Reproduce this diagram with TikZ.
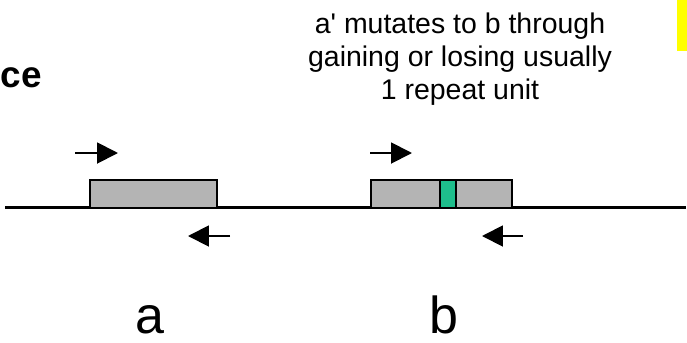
\documentclass[tikz,border=0pt]{standalone}
\usepackage{fontspec}
\setmainfont{Liberation Sans}
\usetikzlibrary{arrows.meta,positioning}
\definecolor{locusgray}{RGB}{180,180,180}
\definecolor{rptgreen}{RGB}{30,190,140}
\definecolor{hilite}{RGB}{255,255,0}
\tikzset{
  locus/.style={draw,line width=0.9pt,fill=locusgray,minimum height=0.56cm,inner sep=0pt},
  unit/.style={draw,line width=0.9pt,fill=rptgreen,minimum width=0.32cm,minimum height=0.56cm,inner sep=0pt},
  primer/.style={-{Triangle[length=0.42cm,width=0.42cm]},line width=1.1pt},
  chrom/.style={line width=1.7pt},
  lbl/.style={font=\fontsize{29.6}{32}\selectfont,inner sep=0pt,anchor=base}
}
\begin{document}
\begin{tikzpicture}[x=0.02cm,y=-0.02cm]
\useasboundingbox (0,0) rectangle (687,342);
\fill[hilite] (677,0) rectangle (687,51);
\node[font=\bfseries\fontsize{21}{24}\selectfont,inner sep=0pt,anchor=base west] (ttl) at (0.5,87) {ce};
\node[font=\fontsize{16.2}{18.8}\selectfont,align=center,inner sep=0pt,anchor=north] (note) at (460,12.3)
  {a\textquotesingle{} mutates to b through\\gaining or losing usually\\1 repeat unit};
% chromosome line
\coordinate (l0) at (5,207.5);
\coordinate (l1) at (686,207.5);
\draw[chrom] (l0) -- (l1);
% loci
\node[locus,minimum width=2.54cm] (la) at (153.5,194) {};
\node[locus,minimum width=2.82cm] (lb) at (441.5,194) {};
\node[unit] (ru) at (448,194) {};
% primers
\coordinate (fa0) at (75,153);  \coordinate (fa1) at (118,153);
\coordinate (ra0) at (230,236); \coordinate (ra1) at (188,236);
\coordinate (fb0) at (370,153); \coordinate (fb1) at (412,153);
\coordinate (rb0) at (523,236); \coordinate (rb1) at (482,236);
\draw[primer] (fa0) -- (fa1);
\draw[primer] (ra0) -- (ra1);
\draw[primer] (fb0) -- (fb1);
\draw[primer] (rb0) -- (rb1);
% allele names
\node[lbl] (na) at (150,333) {a};
\node[lbl] (nb) at (444,333) {b};
\end{tikzpicture}
\end{document}
